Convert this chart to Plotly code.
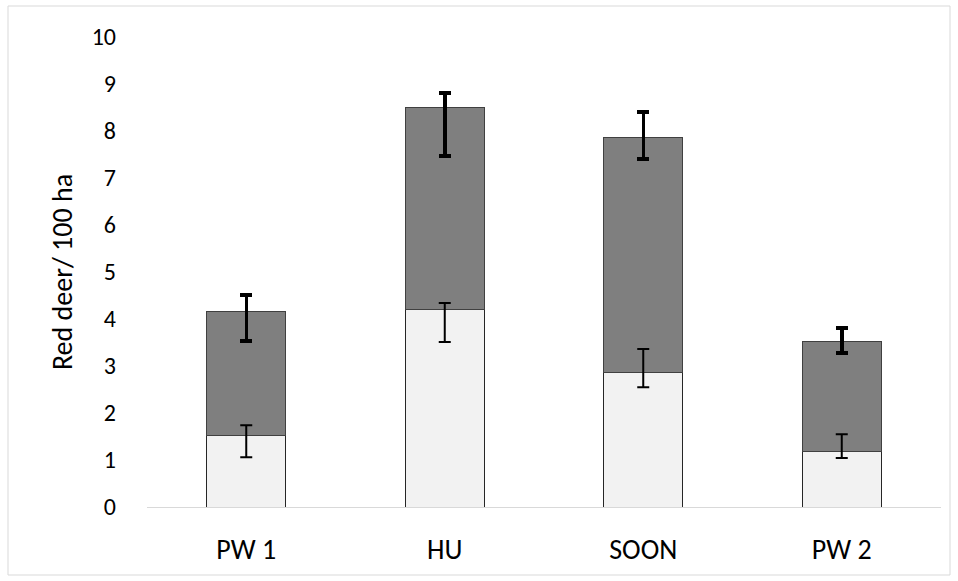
import plotly.graph_objects as go

# Red deer density per site, split into two stacked components
sites = ["PW 1", "HU", "SOON", "PW 2"]

lower_vals = [1.53, 4.21, 2.87, 1.19]
lower_err_plus = [0.21, 0.13, 0.49, 0.36]
lower_err_minus = [0.47, 0.70, 0.32, 0.15]

total_vals = [4.15, 8.51, 7.87, 3.53]
upper_err_plus = [0.36, 0.30, 0.53, 0.28]
upper_err_minus = [0.62, 1.04, 0.47, 0.25]

upper_vals = [t - l for t, l in zip(total_vals, lower_vals)]

y_ticks = list(range(0, 11))

fig = go.Figure()

fig.add_trace(go.Bar(
    x=sites,
    y=lower_vals,
    marker=dict(color="#F2F2F2", line=dict(color="#262626", width=1)),
    showlegend=False,
))

fig.add_trace(go.Bar(
    x=sites,
    y=upper_vals,
    marker=dict(color="#7F7F7F", line=dict(color="#404040", width=1)),
    error_y=dict(type="data", symmetric=False, array=upper_err_plus,
                 arrayminus=upper_err_minus, color="#000000",
                 thickness=3.5, width=6),
    showlegend=False,
))

# Error bars of the lower segment, drawn above the stacked bars
fig.add_trace(go.Scatter(
    x=sites,
    y=lower_vals,
    mode="markers",
    marker=dict(size=1, opacity=0),
    error_y=dict(type="data", symmetric=False, array=lower_err_plus,
                 arrayminus=lower_err_minus, color="#000000",
                 thickness=2, width=6),
    showlegend=False,
    hoverinfo="skip",
))

font_family = "Carlito, Calibri, 'Open Sans', sans-serif"

fig.update_layout(
    width=958,
    height=581,
    barmode="stack",
    bargap=0.6,
    plot_bgcolor="white",
    paper_bgcolor="white",
    margin=dict(l=147, r=17, t=37, b=74),
    font=dict(family=font_family, size=24, color="#000000"),
    xaxis=dict(
        showgrid=False,
        showline=True,
        linecolor="#D9D9D9",
        linewidth=1,
        ticks="",
        ticklabelstandoff=17,
        tickfont=dict(size=28),
    ),
    yaxis=dict(
        range=[0, 10],
        tickvals=y_ticks,
        showgrid=False,
        zeroline=False,
        showline=False,
        ticks="",
        ticklabelstandoff=30,
        tickfont=dict(size=24),
        title=dict(text="Red deer/ 100 ha", font=dict(size=28), standoff=10),
    ),
    shapes=[
        dict(type="rect", xref="paper", yref="paper",
             x0=(8 - 147) / 794, x1=(950 - 147) / 794,
             y0=(507 - 575) / 470, y1=(507 - 6) / 470,
             line=dict(color="#D9D9D9", width=1), fillcolor="rgba(0,0,0,0)",
             layer="below"),
    ],
)

fig.write_html("out.html")
